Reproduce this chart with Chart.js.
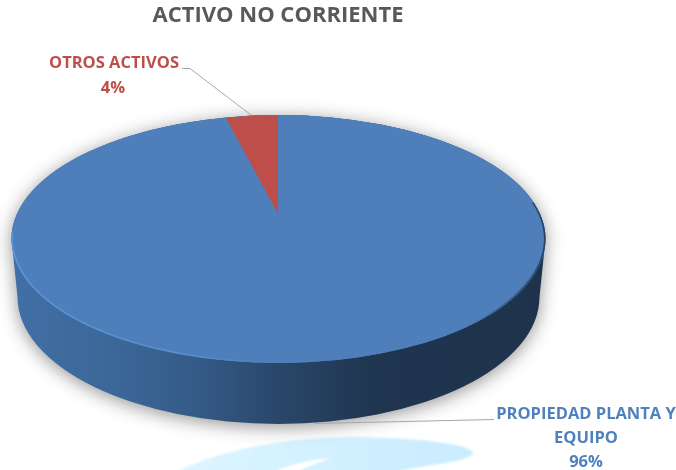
<!DOCTYPE html>
<html>
<head>
<meta charset="utf-8">
<style>
  html, body { margin: 0; padding: 0; background: #fff; overflow: hidden; }
  canvas { display: block; filter: blur(0.4px); }
</style>
<script src="https://cdn.jsdelivr.net/npm/chart.js@4"></script>
</head>
<body>
<canvas id="myChart" width="676" height="470"></canvas>
<script>
//data
const categories = ['PROPIEDAD PLANTA Y EQUIPO', 'OTROS ACTIVOS'];
const values = [96, 4];
const sliceColors = ['#4E7FBB', '#BE4E4A'];
const chartTitle = 'ACTIVO NO CORRIENTE';

//the 3d look: where the flat circle of the pie lands on the page
const face = { x: 278.5, y: 239, rx: 267, ry: 124 };
const floor = { x: 278.5, y: 297, rx: 261, ry: 127 };
const redFace = { x: 278, y: 214, rx: 209, ry: 99 };

const fontName = '"Open Sans", Lato, sans-serif';

const ellipsePath = (ctx, e) => {
  ctx.beginPath();
  ctx.ellipse(e.x, e.y, e.rx, e.ry, 0, 0, Math.PI * 2);
};

const wallPath = ctx => {
  ctx.beginPath();
  ctx.ellipse(face.x, face.y, face.rx, face.ry, 0, Math.PI, Math.PI * 2);
  ctx.ellipse(floor.x, floor.y, floor.rx, floor.ry, 0, 0, Math.PI);
  ctx.closePath();
};

const drawBlob = ctx => {
  ctx.save();
  ctx.filter = 'blur(1px)';
  const g = ctx.createLinearGradient(180, 0, 473, 0);
  g.addColorStop(0, '#DDF5FF');
  g.addColorStop(1, '#C8ECFF');
  ctx.fillStyle = g;
  ctx.beginPath();
  ctx.moveTo(176, 472);
  ctx.bezierCurveTo(225, 447, 300, 436, 362, 437);
  ctx.bezierCurveTo(420, 438, 473, 445, 473, 453);
  ctx.bezierCurveTo(473, 461, 425, 465, 395, 472);
  ctx.closePath();
  ctx.fill();
  ctx.fillStyle = '#ffffff';
  ctx.beginPath();
  ctx.moveTo(275, 472);
  ctx.bezierCurveTo(290, 463, 315, 459, 332, 458);
  ctx.bezierCurveTo(320, 462, 305, 467, 298, 472);
  ctx.closePath();
  ctx.fill();
  ctx.restore();
};

const drawWall = ctx => {
  ctx.save();
  ctx.shadowColor = 'rgba(0,0,0,0.42)';
  ctx.shadowBlur = 18;
  ctx.shadowOffsetY = 3;
  const g = ctx.createLinearGradient(face.x - face.rx, 0, face.x + face.rx, 0);
  g.addColorStop(0, '#426FA6');
  g.addColorStop(0.2, '#3B6797');
  g.addColorStop(0.35, '#345A87');
  g.addColorStop(0.5, '#2A476A');
  g.addColorStop(0.68, '#1F3550');
  g.addColorStop(1, '#1E334B');
  ctx.fillStyle = g;
  wallPath(ctx);
  ctx.fill();
  ctx.restore();
};

const drawFace = (ctx, arc, target) => {
  ctx.save();
  ctx.translate(target.x, target.y);
  ctx.scale(target.rx / arc.outerRadius, target.ry / arc.outerRadius);
  ctx.translate(-arc.x, -arc.y);
  arc.draw(ctx);
  ctx.restore();
};

// swaps the flat pie for the tilted one, the arcs are still the library's own
const tiltPlugin = {
  id: 'tilt',
  beforeDatasetsDraw(chart) {
    const ctx = chart.ctx;
    const arcs = chart.getDatasetMeta(0).data;
    drawBlob(ctx);
    drawWall(ctx);

    // base disc, so no gap is left between the two faces
    ctx.save();
    ctx.fillStyle = sliceColors[0];
    ellipsePath(ctx, face);
    ctx.fill();
    ctx.restore();

    drawFace(ctx, arcs[0], face);

    // light rim lower left, dark rim right
    ctx.save();
    const rim = ctx.createLinearGradient(face.x - face.rx, 0, face.x + face.rx, 0);
    rim.addColorStop(0, 'rgba(92,151,220,0.9)');
    rim.addColorStop(0.35, 'rgba(91,146,210,0.8)');
    rim.addColorStop(0.5, 'rgba(78,127,187,0)');
    rim.addColorStop(0.85, 'rgba(30,51,75,0)');
    rim.addColorStop(1, 'rgba(30,51,75,0.8)');
    ctx.strokeStyle = rim;
    ctx.lineWidth = 1.6;
    ctx.beginPath();
    ctx.ellipse(face.x, face.y, face.rx - 0.8, face.ry - 0.8, 0, -0.3, Math.PI + 0.05);
    ctx.stroke();
    ctx.restore();

    drawFace(ctx, arcs[1], redFace);
    return false;
  },
  afterDraw(chart) {
    const ctx = chart.ctx;
    ctx.save();

    // leader lines
    ctx.strokeStyle = '#A6A6A6';
    ctx.lineWidth = 1;
    ctx.beginPath();
    ctx.moveTo(182, 68.5);
    ctx.lineTo(190, 68.5);
    ctx.lineTo(251, 115);
    ctx.moveTo(315, 423.5);
    ctx.lineTo(494, 419.5);
    ctx.stroke();

    // labels
    ctx.font = 'bold 16.5px ' + fontName;
    ctx.textAlign = 'center';
    ctx.textBaseline = 'middle';
    ctx.fillStyle = sliceColors[1];
    ctx.fillText(categories[1], 114, 63);
    ctx.fillText(values[1] + '%', 113, 88);
    ctx.fillStyle = '#4F81BD';
    ctx.fillText('PROPIEDAD PLANTA Y', 586, 414);
    ctx.fillText('EQUIPO', 586, 438);
    ctx.fillText(values[0] + '%', 586, 462);
    ctx.restore();
  }
};

//config
const config = {
  type: 'pie',
  data: {
    labels: categories,
    datasets: [{
      data: values,
      backgroundColor: sliceColors,
      borderWidth: 0
    }]
  },
  options: {
    responsive: false,
    animation: false,
    layout: { padding: { right: 120 } },
    plugins: {
      legend: { display: false },
      tooltip: { enabled: false },
      title: {
        display: true,
        text: chartTitle,
        color: '#595959',
        font: { family: fontName, size: 22, weight: 'bold' },
        padding: { top: 3, bottom: 8 }
      }
    }
  },
  plugins: [tiltPlugin]
};

const myChart = new Chart(document.getElementById('myChart'), config);
</script>
</body>
</html>
